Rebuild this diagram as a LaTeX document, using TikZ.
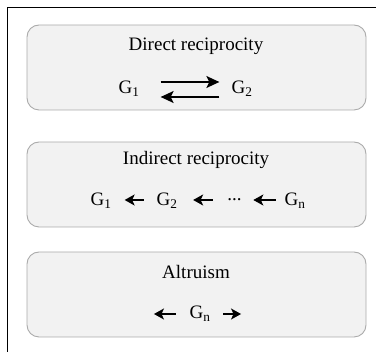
\documentclass[tikz,border=0pt]{standalone}
\usepackage{fontspec}
\setmainfont{Liberation Serif}
\usetikzlibrary{arrows.meta,calc}
\tikzset{
  panel/.style={draw=black!33, fill=black!5, line width=0.9pt, rounded corners=12pt},
  lbl/.style={font=\fontsize{19}{22}\selectfont, inner sep=0pt},
  gl/.style={lbl, anchor=base},
  arr/.style={line width=1.5pt, -{Stealth[length=10pt,width=11pt,inset=2.5pt]}},
  arrlong/.style={line width=1.5pt, -{Stealth[length=13pt,width=12pt,inset=3pt]}},
  frame/.style={line width=1.4pt, black}
}
\begin{document}
\begin{tikzpicture}[x=1pt,y=-1pt]
\useasboundingbox (0,0) rectangle (376,352);
\coordinate (ftr) at (376,7.5);
\coordinate (ftl) at (7.5,7.5);
\coordinate (fbl) at (7.5,352);
\draw[frame] (ftr) -- (ftl) -- (fbl);
% panels
\node[panel, minimum width=339pt, minimum height=85pt] (p1) at (196.5,67.5) {};
\node[panel, minimum width=339pt, minimum height=85pt] (p2) at (196.5,184.5) {};
\node[panel, minimum width=339pt, minimum height=85pt] (p3) at (196.5,294.5) {};
% titles
\node[lbl] (t1) at (196,46) {Direct reciprocity};
\node[lbl] (t2) at (196,160) {Indirect reciprocity};
\node[lbl] (t3) at (196,272) {Altruism};
% direct
\node[gl] (a1) at (129,94) {G\textsubscript{1}};
\node[gl] (a2) at (242,94) {G\textsubscript{2}};
\draw[arrlong] ($(a1.base east)+(21,-12)$) -- ($(a2.base west)+(-12,-12)$);
\draw[arrlong] ($(a2.base west)+(-12,3)$) -- ($(a1.base east)+(21,3)$);
% indirect
\node[gl] (b1) at (101,206) {G\textsubscript{1}};
\node[gl] (b2) at (167,206) {G\textsubscript{2}};
\node[gl] (b3) at (234.5,206) {\raisebox{0.3em}{...}};
\node[gl] (b4) at (295,206) {G\textsubscript{n}};
\draw[arr] ($(b2.base west)+(-12.5,-6)$) -- ($(b1.base east)+(13,-6)$);
\draw[arr] ($(b3.base west)+(-14.5,-6)$) -- ($(b2.base east)+(15.5,-6)$);
\draw[arr] ($(b4.base west)+(-8.5,-6)$) -- ($(b3.base east)+(11.5,-6)$);
% altruism
\node[gl] (c1) at (200,319) {G\textsubscript{n}};
\draw[arr] ($(c1.base west)+(-13.4,-5)$) -- ++(-22,0);
\draw[arr] ($(c1.base east)+(12.4,-5)$) -- ++(18,0);
\end{tikzpicture}
\end{document}
